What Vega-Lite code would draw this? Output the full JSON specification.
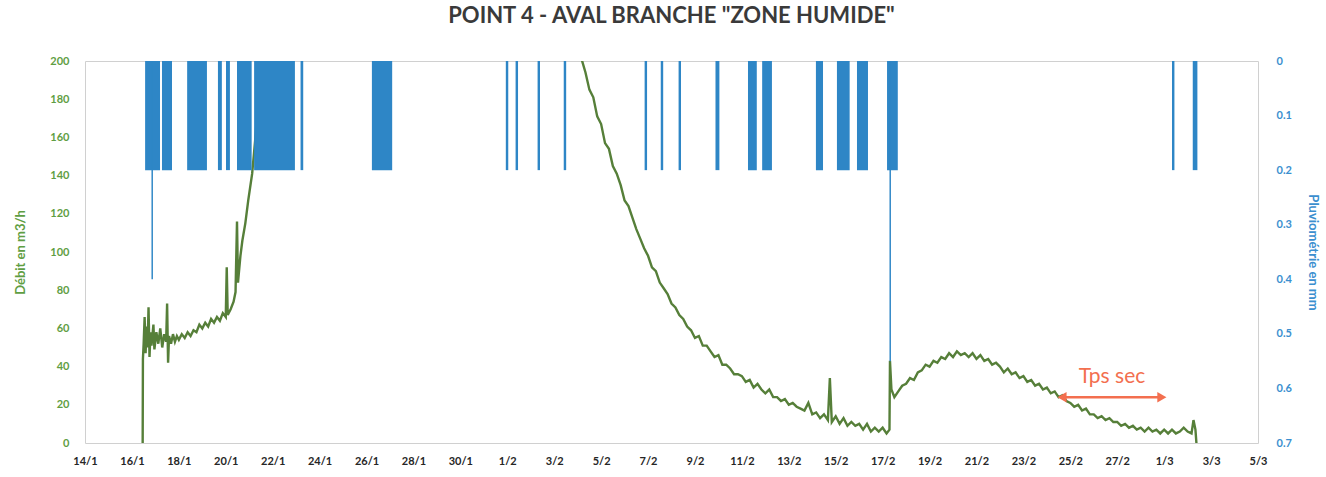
{
  "$schema": "https://vega.github.io/schema/vega-lite/v6.json",
  "width": 1173,
  "height": 382,
  "autosize": {"type": "none"},
  "padding": {"left": 85, "top": 61, "right": 68, "bottom": 34},
  "background": "white",
  "config": {
    "font": "Lato",
    "view": {"stroke": "#d0d0d0", "strokeWidth": 1}
  },
  "title": {
    "text": "POINT 4 - AVAL BRANCHE \"ZONE HUMIDE\"",
    "fontSize": 22,
    "fontWeight": "bold",
    "color": "#3a3a3a",
    "anchor": "middle",
    "offset": 27
  },
  "datasets": {
    "debit": [
      {"t": "2021-01-16T11:00", "q": 0},
      {"t": "2021-01-16T11:15", "q": 44},
      {"t": "2021-01-16T12:00", "q": 52},
      {"t": "2021-01-16T13:00", "q": 66},
      {"t": "2021-01-16T14:00", "q": 47},
      {"t": "2021-01-16T15:00", "q": 61},
      {"t": "2021-01-16T16:00", "q": 50},
      {"t": "2021-01-16T17:00", "q": 71},
      {"t": "2021-01-16T18:00", "q": 45},
      {"t": "2021-01-16T19:00", "q": 58},
      {"t": "2021-01-16T20:00", "q": 51},
      {"t": "2021-01-16T22:00", "q": 62},
      {"t": "2021-01-16T23:00", "q": 49},
      {"t": "2021-01-17T01:00", "q": 58},
      {"t": "2021-01-17T03:00", "q": 52},
      {"t": "2021-01-17T05:00", "q": 60},
      {"t": "2021-01-17T07:00", "q": 50},
      {"t": "2021-01-17T09:00", "q": 57},
      {"t": "2021-01-17T11:00", "q": 53},
      {"t": "2021-01-17T12:00", "q": 73},
      {"t": "2021-01-17T13:00", "q": 42},
      {"t": "2021-01-17T14:00", "q": 56},
      {"t": "2021-01-17T16:00", "q": 52},
      {"t": "2021-01-17T18:00", "q": 57},
      {"t": "2021-01-17T20:00", "q": 53},
      {"t": "2021-01-17T22:00", "q": 56},
      {"t": "2021-01-18T00:00", "q": 54},
      {"t": "2021-01-18T03:00", "q": 57},
      {"t": "2021-01-18T06:00", "q": 55},
      {"t": "2021-01-18T09:00", "q": 58},
      {"t": "2021-01-18T12:00", "q": 56},
      {"t": "2021-01-18T15:00", "q": 59},
      {"t": "2021-01-18T18:00", "q": 58},
      {"t": "2021-01-18T21:00", "q": 62},
      {"t": "2021-01-19T00:00", "q": 60},
      {"t": "2021-01-19T03:00", "q": 63},
      {"t": "2021-01-19T06:00", "q": 61},
      {"t": "2021-01-19T09:00", "q": 65},
      {"t": "2021-01-19T12:00", "q": 63},
      {"t": "2021-01-19T15:00", "q": 66},
      {"t": "2021-01-19T18:00", "q": 64},
      {"t": "2021-01-19T21:00", "q": 68},
      {"t": "2021-01-20T00:00", "q": 66},
      {"t": "2021-01-20T01:00", "q": 92},
      {"t": "2021-01-20T02:00", "q": 67},
      {"t": "2021-01-20T05:00", "q": 70},
      {"t": "2021-01-20T08:00", "q": 74},
      {"t": "2021-01-20T10:00", "q": 79},
      {"t": "2021-01-20T11:30", "q": 116},
      {"t": "2021-01-20T12:30", "q": 84},
      {"t": "2021-01-20T15:00", "q": 98},
      {"t": "2021-01-20T17:00", "q": 106},
      {"t": "2021-01-20T20:00", "q": 115},
      {"t": "2021-01-20T23:00", "q": 127},
      {"t": "2021-01-21T03:00", "q": 141},
      {"t": "2021-01-21T06:00", "q": 158},
      {"t": "2021-01-21T08:00", "q": 172},
      {"t": "2021-01-21T11:00", "q": 200},
      {"t": "2021-01-21T14:00", "q": 228},
      {"t": "2021-01-23T00:00", "q": 300},
      {"t": "2021-01-27T00:00", "q": 340},
      {"t": "2021-01-31T00:00", "q": 290},
      {"t": "2021-02-03T00:00", "q": 225},
      {"t": "2021-02-04T04:00", "q": 201},
      {"t": "2021-02-04T08:00", "q": 194},
      {"t": "2021-02-04T12:00", "q": 185},
      {"t": "2021-02-04T16:00", "q": 181},
      {"t": "2021-02-04T20:00", "q": 171},
      {"t": "2021-02-05T00:00", "q": 167},
      {"t": "2021-02-05T04:00", "q": 157},
      {"t": "2021-02-05T08:00", "q": 154},
      {"t": "2021-02-05T12:00", "q": 145},
      {"t": "2021-02-05T16:00", "q": 141},
      {"t": "2021-02-05T20:00", "q": 135},
      {"t": "2021-02-06T00:00", "q": 127},
      {"t": "2021-02-06T04:00", "q": 124},
      {"t": "2021-02-06T08:00", "q": 118},
      {"t": "2021-02-06T12:00", "q": 112},
      {"t": "2021-02-06T16:00", "q": 107},
      {"t": "2021-02-06T20:00", "q": 102},
      {"t": "2021-02-07T00:00", "q": 98},
      {"t": "2021-02-07T04:00", "q": 92},
      {"t": "2021-02-07T08:00", "q": 90},
      {"t": "2021-02-07T12:00", "q": 84},
      {"t": "2021-02-07T16:00", "q": 81},
      {"t": "2021-02-07T20:00", "q": 78},
      {"t": "2021-02-08T00:00", "q": 73},
      {"t": "2021-02-08T04:00", "q": 71},
      {"t": "2021-02-08T08:00", "q": 67},
      {"t": "2021-02-08T12:00", "q": 65},
      {"t": "2021-02-08T16:00", "q": 61},
      {"t": "2021-02-08T20:00", "q": 59},
      {"t": "2021-02-09T00:00", "q": 55},
      {"t": "2021-02-09T04:00", "q": 56},
      {"t": "2021-02-09T08:00", "q": 51},
      {"t": "2021-02-09T12:00", "q": 51},
      {"t": "2021-02-09T16:00", "q": 48},
      {"t": "2021-02-09T20:00", "q": 45},
      {"t": "2021-02-10T00:00", "q": 46},
      {"t": "2021-02-10T04:00", "q": 41},
      {"t": "2021-02-10T08:00", "q": 41},
      {"t": "2021-02-10T12:00", "q": 39},
      {"t": "2021-02-10T16:00", "q": 36},
      {"t": "2021-02-10T20:00", "q": 36},
      {"t": "2021-02-11T00:00", "q": 35},
      {"t": "2021-02-11T04:00", "q": 32},
      {"t": "2021-02-11T08:00", "q": 33},
      {"t": "2021-02-11T12:00", "q": 29},
      {"t": "2021-02-11T16:00", "q": 31},
      {"t": "2021-02-11T20:00", "q": 28},
      {"t": "2021-02-12T00:00", "q": 26},
      {"t": "2021-02-12T04:00", "q": 28},
      {"t": "2021-02-12T08:00", "q": 24},
      {"t": "2021-02-12T12:00", "q": 24},
      {"t": "2021-02-12T16:00", "q": 22},
      {"t": "2021-02-12T20:00", "q": 23},
      {"t": "2021-02-13T00:00", "q": 20},
      {"t": "2021-02-13T04:00", "q": 21},
      {"t": "2021-02-13T08:00", "q": 19},
      {"t": "2021-02-13T12:00", "q": 18},
      {"t": "2021-02-13T16:00", "q": 17},
      {"t": "2021-02-13T20:00", "q": 21},
      {"t": "2021-02-14T00:00", "q": 15},
      {"t": "2021-02-14T04:00", "q": 16},
      {"t": "2021-02-14T08:00", "q": 13},
      {"t": "2021-02-14T12:00", "q": 15},
      {"t": "2021-02-14T16:00", "q": 12},
      {"t": "2021-02-14T18:00", "q": 34},
      {"t": "2021-02-14T20:00", "q": 11},
      {"t": "2021-02-15T00:00", "q": 14},
      {"t": "2021-02-15T04:00", "q": 10},
      {"t": "2021-02-15T08:00", "q": 13},
      {"t": "2021-02-15T12:00", "q": 9},
      {"t": "2021-02-15T16:00", "q": 11},
      {"t": "2021-02-15T20:00", "q": 9},
      {"t": "2021-02-16T00:00", "q": 10},
      {"t": "2021-02-16T04:00", "q": 7},
      {"t": "2021-02-16T08:00", "q": 10},
      {"t": "2021-02-16T12:00", "q": 6},
      {"t": "2021-02-16T16:00", "q": 8},
      {"t": "2021-02-16T20:00", "q": 6},
      {"t": "2021-02-17T00:00", "q": 8},
      {"t": "2021-02-17T04:00", "q": 5},
      {"t": "2021-02-17T07:00", "q": 7},
      {"t": "2021-02-17T07:30", "q": 43},
      {"t": "2021-02-17T09:00", "q": 28},
      {"t": "2021-02-17T12:00", "q": 24},
      {"t": "2021-02-17T16:00", "q": 27},
      {"t": "2021-02-17T20:00", "q": 30},
      {"t": "2021-02-18T00:00", "q": 31},
      {"t": "2021-02-18T04:00", "q": 34},
      {"t": "2021-02-18T08:00", "q": 33},
      {"t": "2021-02-18T12:00", "q": 37},
      {"t": "2021-02-18T16:00", "q": 38},
      {"t": "2021-02-18T20:00", "q": 41},
      {"t": "2021-02-19T00:00", "q": 40},
      {"t": "2021-02-19T04:00", "q": 43},
      {"t": "2021-02-19T08:00", "q": 42},
      {"t": "2021-02-19T12:00", "q": 45},
      {"t": "2021-02-19T16:00", "q": 44},
      {"t": "2021-02-19T20:00", "q": 47},
      {"t": "2021-02-20T00:00", "q": 45},
      {"t": "2021-02-20T04:00", "q": 48},
      {"t": "2021-02-20T08:00", "q": 46},
      {"t": "2021-02-20T12:00", "q": 47},
      {"t": "2021-02-20T16:00", "q": 45},
      {"t": "2021-02-20T20:00", "q": 47},
      {"t": "2021-02-21T00:00", "q": 44},
      {"t": "2021-02-21T04:00", "q": 46},
      {"t": "2021-02-21T08:00", "q": 43},
      {"t": "2021-02-21T12:00", "q": 44},
      {"t": "2021-02-21T16:00", "q": 41},
      {"t": "2021-02-21T20:00", "q": 42},
      {"t": "2021-02-22T00:00", "q": 40},
      {"t": "2021-02-22T04:00", "q": 37},
      {"t": "2021-02-22T08:00", "q": 39},
      {"t": "2021-02-22T12:00", "q": 36},
      {"t": "2021-02-22T16:00", "q": 37},
      {"t": "2021-02-22T20:00", "q": 34},
      {"t": "2021-02-23T00:00", "q": 35},
      {"t": "2021-02-23T04:00", "q": 32},
      {"t": "2021-02-23T08:00", "q": 33},
      {"t": "2021-02-23T12:00", "q": 30},
      {"t": "2021-02-23T16:00", "q": 31},
      {"t": "2021-02-23T20:00", "q": 28},
      {"t": "2021-02-24T00:00", "q": 29},
      {"t": "2021-02-24T04:00", "q": 26},
      {"t": "2021-02-24T08:00", "q": 27},
      {"t": "2021-02-24T12:00", "q": 24},
      {"t": "2021-02-24T16:00", "q": 25},
      {"t": "2021-02-24T20:00", "q": 22},
      {"t": "2021-02-25T00:00", "q": 21},
      {"t": "2021-02-25T04:00", "q": 19},
      {"t": "2021-02-25T08:00", "q": 20},
      {"t": "2021-02-25T12:00", "q": 17},
      {"t": "2021-02-25T16:00", "q": 18},
      {"t": "2021-02-25T20:00", "q": 15},
      {"t": "2021-02-26T00:00", "q": 15},
      {"t": "2021-02-26T04:00", "q": 13},
      {"t": "2021-02-26T08:00", "q": 14},
      {"t": "2021-02-26T12:00", "q": 12},
      {"t": "2021-02-26T16:00", "q": 13},
      {"t": "2021-02-26T20:00", "q": 11},
      {"t": "2021-02-27T00:00", "q": 11},
      {"t": "2021-02-27T04:00", "q": 9},
      {"t": "2021-02-27T08:00", "q": 10},
      {"t": "2021-02-27T12:00", "q": 8},
      {"t": "2021-02-27T16:00", "q": 9},
      {"t": "2021-02-27T20:00", "q": 7},
      {"t": "2021-02-28T00:00", "q": 8},
      {"t": "2021-02-28T04:00", "q": 6},
      {"t": "2021-02-28T08:00", "q": 8},
      {"t": "2021-02-28T12:00", "q": 6},
      {"t": "2021-02-28T16:00", "q": 7},
      {"t": "2021-02-28T20:00", "q": 5},
      {"t": "2021-03-01T00:00", "q": 7},
      {"t": "2021-03-01T04:00", "q": 5},
      {"t": "2021-03-01T08:00", "q": 7},
      {"t": "2021-03-01T12:00", "q": 5},
      {"t": "2021-03-01T16:00", "q": 6},
      {"t": "2021-03-01T20:00", "q": 8},
      {"t": "2021-03-02T00:00", "q": 6},
      {"t": "2021-03-02T04:00", "q": 5},
      {"t": "2021-03-02T06:00", "q": 12},
      {"t": "2021-03-02T08:00", "q": 7},
      {"t": "2021-03-02T09:00", "q": 0}
    ],
    "pluie": [
      {"debut": "2021-01-16T13:30", "fin": "2021-01-17T04:45", "mm": 0.2},
      {"debut": "2021-01-16T20:00", "fin": "2021-01-16T21:30", "mm": 0.4},
      {"debut": "2021-01-17T06:45", "fin": "2021-01-17T17:00", "mm": 0.2},
      {"debut": "2021-01-18T08:30", "fin": "2021-01-19T04:45", "mm": 0.2},
      {"debut": "2021-01-19T16:00", "fin": "2021-01-19T20:00", "mm": 0.2},
      {"debut": "2021-01-20T00:15", "fin": "2021-01-20T04:15", "mm": 0.2},
      {"debut": "2021-01-20T11:30", "fin": "2021-01-21T02:30", "mm": 0.2},
      {"debut": "2021-01-21T05:00", "fin": "2021-01-22T22:45", "mm": 0.2},
      {"debut": "2021-01-23T04:30", "fin": "2021-01-23T07:15", "mm": 0.2},
      {"debut": "2021-01-26T05:30", "fin": "2021-01-27T02:15", "mm": 0.2},
      {"debut": "2021-01-31T22:30", "fin": "2021-02-01T01:00", "mm": 0.2},
      {"debut": "2021-02-01T08:30", "fin": "2021-02-01T11:00", "mm": 0.2},
      {"debut": "2021-02-02T07:00", "fin": "2021-02-02T09:30", "mm": 0.2},
      {"debut": "2021-02-03T09:45", "fin": "2021-02-03T12:15", "mm": 0.2},
      {"debut": "2021-02-06T20:30", "fin": "2021-02-06T23:00", "mm": 0.2},
      {"debut": "2021-02-07T13:00", "fin": "2021-02-07T15:30", "mm": 0.2},
      {"debut": "2021-02-08T07:15", "fin": "2021-02-08T09:45", "mm": 0.2},
      {"debut": "2021-02-09T21:00", "fin": "2021-02-10T01:00", "mm": 0.2},
      {"debut": "2021-02-11T06:15", "fin": "2021-02-11T15:15", "mm": 0.2},
      {"debut": "2021-02-11T20:45", "fin": "2021-02-12T06:45", "mm": 0.2},
      {"debut": "2021-02-14T03:45", "fin": "2021-02-14T11:00", "mm": 0.2},
      {"debut": "2021-02-15T01:15", "fin": "2021-02-15T14:15", "mm": 0.2},
      {"debut": "2021-02-15T21:45", "fin": "2021-02-16T09:00", "mm": 0.2},
      {"debut": "2021-02-17T04:30", "fin": "2021-02-17T15:30", "mm": 0.2},
      {"debut": "2021-02-17T07:00", "fin": "2021-02-17T08:30", "mm": 0.55},
      {"debut": "2021-03-01T08:00", "fin": "2021-03-01T10:30", "mm": 0.2},
      {"debut": "2021-03-02T05:15", "fin": "2021-03-02T10:00", "mm": 0.2}
    ],
    "fleche": [
      {"debut": "2021-02-24T15:30", "fin": "2021-02-28T21:40", "q": 24}
    ],
    "pointes": [
      {"t": "2021-02-24T15:30", "q": 24, "sens": "gauche"},
      {"t": "2021-02-28T21:40", "q": 24, "sens": "droite"}
    ],
    "etiquette": [
      {"t": "2021-02-26T18:40", "q": 34.5, "texte": "Tps sec"}
    ]
  },
  "encoding": {
    "x": {
      "type": "temporal",
      "scale": {
        "domain": [
          {"year": 2021, "month": 1, "date": 14},
          {"year": 2021, "month": 3, "date": 5}
        ]
      },
      "axis": {
        "title": null,
        "format": "%-d/%-m",
        "values": [
          {"year": 2021, "month": 1, "date": 14},
          {"year": 2021, "month": 1, "date": 16},
          {"year": 2021, "month": 1, "date": 18},
          {"year": 2021, "month": 1, "date": 20},
          {"year": 2021, "month": 1, "date": 22},
          {"year": 2021, "month": 1, "date": 24},
          {"year": 2021, "month": 1, "date": 26},
          {"year": 2021, "month": 1, "date": 28},
          {"year": 2021, "month": 1, "date": 30},
          {"year": 2021, "month": 2, "date": 1},
          {"year": 2021, "month": 2, "date": 3},
          {"year": 2021, "month": 2, "date": 5},
          {"year": 2021, "month": 2, "date": 7},
          {"year": 2021, "month": 2, "date": 9},
          {"year": 2021, "month": 2, "date": 11},
          {"year": 2021, "month": 2, "date": 13},
          {"year": 2021, "month": 2, "date": 15},
          {"year": 2021, "month": 2, "date": 17},
          {"year": 2021, "month": 2, "date": 19},
          {"year": 2021, "month": 2, "date": 21},
          {"year": 2021, "month": 2, "date": 23},
          {"year": 2021, "month": 2, "date": 25},
          {"year": 2021, "month": 2, "date": 27},
          {"year": 2021, "month": 3, "date": 1},
          {"year": 2021, "month": 3, "date": 3},
          {"year": 2021, "month": 3, "date": 5}
        ],
        "grid": false,
        "ticks": false,
        "domain": false,
        "labelPadding": 12,
        "labelFontSize": 11,
        "labelFontWeight": "bold",
        "labelColor": "#262626",
        "labelFlush": false,
        "labelOverlap": false
      }
    }
  },
  "layer": [
    {
      "encoding": {
        "y": {
          "field": "q",
          "type": "quantitative",
          "scale": {"domain": [0, 200], "nice": false, "zero": true},
          "axis": {
            "title": "Débit en m3/h",
            "values": [0, 20, 40, 60, 80, 100, 120, 140, 160, 180, 200],
            "labelOverlap": false,
            "grid": false,
            "ticks": false,
            "domain": false,
            "labelPadding": 16,
            "labelFontSize": 11,
            "labelFontWeight": "bold",
            "labelColor": "#5f9e43",
            "titleColor": "#5f9e43",
            "titleFontSize": 13,
            "titleFontWeight": "bold",
            "titlePadding": 22
          }
        }
      },
      "layer": [
        {
          "data": {"name": "debit"},
          "mark": {"type": "line", "color": "#567f39", "strokeWidth": 2.4, "clip": true, "interpolate": "linear"},
          "encoding": {
            "x": {"field": "t"}
          }
        },
        {
          "data": {"name": "fleche"},
          "mark": {"type": "rule", "color": "#f36f4f", "strokeWidth": 2.5},
          "encoding": {
            "x": {"field": "debut"},
            "x2": {"field": "fin"}
          }
        },
        {
          "data": {"name": "pointes"},
          "mark": {"type": "point", "filled": true, "opacity": 1, "size": 110, "color": "#f36f4f"},
          "encoding": {
            "x": {"field": "t"},
            "shape": {
              "field": "sens",
              "type": "nominal",
              "scale": {"domain": ["gauche", "droite"], "range": ["triangle-left", "triangle-right"]},
              "legend": null
            }
          }
        },
        {
          "data": {"name": "etiquette"},
          "mark": {"type": "text", "color": "#f36f4f", "fontSize": 21, "font": "Lato", "baseline": "middle", "align": "center"},
          "encoding": {
            "x": {"field": "t"},
            "text": {"field": "texte"}
          }
        }
      ]
    },
    {
      "data": {"name": "pluie"},
      "mark": {"type": "rect", "color": "#2e86c6"},
      "encoding": {
        "x": {"field": "debut"},
        "x2": {"field": "fin"},
        "y": {
          "field": "mm",
          "type": "quantitative",
          "scale": {"domain": [0, 0.7], "reverse": true, "nice": false},
          "axis": {
            "orient": "right",
            "title": "Pluviométrie en mm",
            "values": [0, 0.1, 0.2, 0.3, 0.4, 0.5, 0.6, 0.7],
            "format": ".1~f",
            "labelOverlap": false,
            "grid": false,
            "ticks": false,
            "domain": false,
            "labelPadding": 18,
            "labelFontSize": 11,
            "labelFontWeight": "bold",
            "labelColor": "#3b8fcf",
            "titleColor": "#3b8fcf",
            "titleFontSize": 13,
            "titleFontWeight": "bold",
            "titlePadding": 14
          }
        },
        "y2": {"datum": 0}
      }
    }
  ],
  "resolve": {"scale": {"y": "independent"}, "axis": {"y": "independent"}}
}
